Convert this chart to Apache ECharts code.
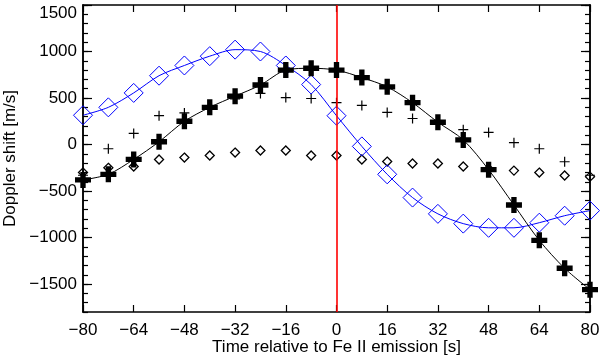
<html>
<head>
    <meta charset="utf-8">
    <title>Doppler shift</title>
    <script src="https://cdn.jsdelivr.net/npm/echarts@6/dist/echarts.min.js"></script>
    <style>
        body { margin: 0; background: white; }
        #main { width: 600px; height: 358px; }
    </style>
</head>
<body>
    <div id='main'></div>
    <script>
        // data
        var TIMES = [-80, -72, -64, -56, -48, -40, -32, -24, -16, -8, 0, 8, 16, 24, 32, 40, 48, 56, 64, 72, 80]
        var BIG_CROSS = [-380, -320, -160, 30, 250, 400, 520, 640, 800, 820, 800, 720, 620, 450, 240, 50, -270, -650, -1030, -1330, -1560]
        var BLUE_DIAMOND = [315, 400, 555, 740, 850, 950, 1020, 1000, 850, 645, 310, -20, -320, -570, -745, -850, -895, -895, -840, -765, -710]
        var SMALL_PLUS = [-330, -45, 120, 310, 340, 400, 490, 550, 505, 495, 450, 420, 345, 280, 240, 160, 130, 20, -45, -185, -330]
        var SMALL_DIAMOND = [-300, -250, -236, -161, -140, -118, -86, -64, -64, -118, -118, -161, -183, -204, -204, -236, -260, -280, -301, -333, -345]
        var Y_LABELS = [-1500, -1000, -500, 0, 500, 1000, 1500]
        var X_MIN = -80, X_MAX = 80, X_STEP = 16
        var Y_MIN = -1800, Y_MAX = 1500

        function pairs(ys) {
            return TIMES.map((t, i) => [t, ys[i]])
        }

        var FONT = 'Liberation Sans'
        var frame = { show: true, onZero: false, lineStyle: { color: '#000', width: 1.5 } }
        var BIG_PLUS = 'path://M2,0 H4 V2 H6 V4 H4 V6 H2 V4 H0 V2 H2 Z'
        var THIN_PLUS = 'path://M0,4.4 H10 V5.6 H0 Z M4.4,0 H5.6 V10 H4.4 Z'
        var minus = v => (v < 0 ? '\u2212' + (-v) : '' + v)

        function yAxisOf(pos, major, labels) {
            var ax = {
                type: 'value', position: pos, min: Y_MIN, max: Y_MAX,
                axisLine: frame, splitLine: { show: false },
                axisTick: { inside: true, length: major ? 9 : 5, lineStyle: { color: '#000', width: 1.2 } },
                axisLabel: { show: false },
            }
            if (major) {
                ax.axisTick.customValues = Y_LABELS
                ax.axisLabel = {
                    show: labels, customValues: Y_LABELS, margin: 6,
                    fontFamily: FONT, fontSize: 17, color: '#000',
                    verticalAlignMaxLabel: 'top',
                    formatter: minus,
                }
            } else {
                ax.interval = 100
            }
            return ax
        }

        var chart = echarts.init(document.getElementById('main'))
        chart.setOption({
            backgroundColor: 'white',
            animation: false,
            grid: { left: 83, right: 10, top: 5, bottom: 46, outerBoundsMode: 'none', containLabel: false },
            xAxis: [
                {
                    type: 'value', min: X_MIN, max: X_MAX, interval: X_STEP,
                    axisLine: frame, splitLine: { show: false },
                    axisTick: { inside: true, length: 7, lineStyle: { color: '#000', width: 1.2 } },
                    axisLabel: { fontFamily: FONT, fontSize: 17, color: '#000', margin: 10, formatter: minus },
                    name: 'Time relative to Fe II emission [s]',
                    nameLocation: 'middle', nameGap: 27, nameMoveOverlap: false,
                    nameTextStyle: { fontFamily: FONT, fontSize: 17, color: '#000' },
                },
                {
                    type: 'value', position: 'top', min: X_MIN, max: X_MAX, interval: X_STEP,
                    axisLine: frame, splitLine: { show: false },
                    axisTick: { inside: true, length: 7, lineStyle: { color: '#000', width: 1.2 } },
                    axisLabel: { show: false },
                },
            ],
            yAxis: [
                Object.assign(yAxisOf('left', true, true), {
                    name: 'Doppler shift [m/s]', nameLocation: 'middle', nameGap: 64, nameMoveOverlap: false,
                    nameTextStyle: { fontFamily: FONT, fontSize: 17, color: '#000' },
                }),
                yAxisOf('left', false, false),
                yAxisOf('right', true, false),
                yAxisOf('right', false, false),
            ],
            series: [
                {
                    type: 'line', data: pairs(SMALL_DIAMOND), symbol: 'diamond', symbolSize: 9,
                    lineStyle: { width: 0 }, z: 3,
                    itemStyle: { color: 'rgba(0,0,0,0)', borderColor: '#000', borderWidth: 1.3 },
                },
                {
                    type: 'line', data: pairs(SMALL_PLUS), symbol: THIN_PLUS, symbolSize: 10,
                    lineStyle: { width: 0 }, itemStyle: { color: '#000' }, z: 3,
                },
                {
                    type: 'line', data: pairs(BLUE_DIAMOND), smooth: 0.3, symbol: 'diamond', symbolSize: 19,
                    lineStyle: { color: '#0000ff', width: 1 }, z: 4,
                    itemStyle: { color: 'rgba(0,0,0,0)', borderColor: '#0000ff', borderWidth: 1 },
                },
                {
                    type: 'line', data: pairs(BIG_CROSS), smooth: 0.3, symbol: BIG_PLUS, symbolSize: 16,
                    lineStyle: { color: '#000', width: 1 }, itemStyle: { color: '#000' }, z: 5,
                    markLine: {
                        silent: true, symbol: 'none', label: { show: false },
                        lineStyle: { color: '#ff0000', width: 1.6, type: 'solid' },
                        data: [{ xAxis: 0 }],
                    },
                },
            ],
        })
    </script>
</body>
</html>
